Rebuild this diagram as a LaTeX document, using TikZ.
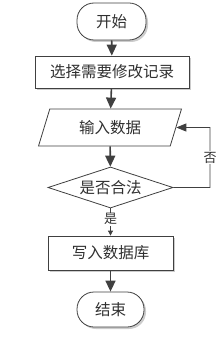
\documentclass[tikz,border=0pt]{standalone}
\usepackage{fontspec}
\newfontfamily\cjk{Noto Sans CJK SC}
\usetikzlibrary{shapes.geometric,shadows,arrows.meta}
\definecolor{ln}{HTML}{404040}
\definecolor{tx}{HTML}{303030}
\begin{document}
\begin{tikzpicture}[x=1pt,y=-1pt,
  base/.style={draw=ln,line width=0.8pt,fill=white,text=tx,font=\cjk\fontsize{15.5}{17}\selectfont,inner sep=0pt},
  shad/.style={drop shadow={shadow xshift=2pt,shadow yshift=-2pt,fill=black!20,opacity=1}},
  term/.style={base,shad,rectangle,rounded corners=17pt},
  proc/.style={base,shad,rectangle},
  io/.style={base,trapezium,trapezium left angle=68,trapezium right angle=112,trapezium stretches=true},
  dec/.style={base,diamond,aspect=3},
  arr/.style={draw=ln,line width=1.6pt,-{Triangle[length=11pt,width=10pt]}},
  thin/.style={draw=ln,line width=0.8pt},
  lbl/.style={fill=white,text=tx,font=\cjk\fontsize{13}{15}\selectfont,inner sep=1pt}]
\useasboundingbox (0,0) rectangle (223,339);
\node[term,minimum width=69pt,minimum height=37pt] (start) at (111.5,21.5) {开始};
\node[proc,minimum width=154pt,minimum height=32pt] (sel) at (112,72) {选择需要修改记录};
\node[io,minimum width=144pt,minimum height=37pt] (in) at (110,127.5) {输入数据};
\node[dec,minimum width=125pt,minimum height=41pt] (chk) at (110.5,187.5) {是否合法};
\node[proc,minimum width=125pt,minimum height=34pt] (wr) at (110.5,253) {写入数据库};
\node[term,minimum width=67pt,minimum height=35pt] (end) at (110.5,309.5) {结束};
\coordinate (lp) at (210,127.5);
\draw[arr] (start) -- (sel);
\draw[arr] (sel) -- (in);
\draw[arr] (in) -- (chk);
\draw[thin,-{Triangle[length=5pt,width=5pt]}] (chk.south) -- node[lbl,pos=0.4] {是} (wr.north);
\draw[arr] (wr) -- (end);
\draw[thin,-{Triangle[length=10pt,width=8pt]}] (chk.east) -| node[lbl,pos=0.75] {否} (lp) -- (in.east);
\end{tikzpicture}
\end{document}
